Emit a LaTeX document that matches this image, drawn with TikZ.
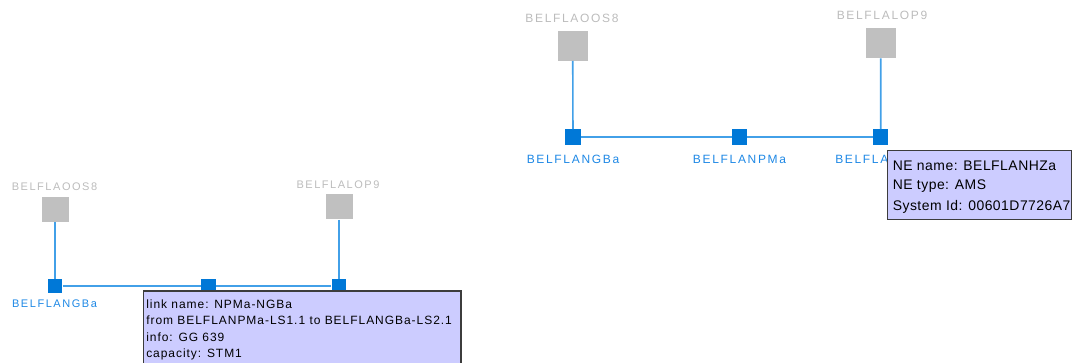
\documentclass[tikz,border=0pt]{standalone}
\usepackage{fontspec}
\setmainfont{Liberation Sans}
\newfontfamily\lblfont[LetterSpace=14]{Liberation Sans}
\newfontfamily\tipfont[LetterSpace=8]{Liberation Sans}
\newfontfamily\tipfontb[LetterSpace=3.5]{Liberation Sans}

\definecolor{neblue}{RGB}{0,120,215}
\definecolor{linkblue}{RGB}{66,160,232}
\definecolor{lblblue}{RGB}{30,136,229}
\definecolor{negray}{RGB}{192,192,192}
\definecolor{lblgray}{RGB}{188,188,188}
\definecolor{tipfill}{RGB}{204,204,255}
\definecolor{tipborder}{RGB}{60,60,60}

\tikzset{
  px/.style={x=0.75pt,y=-0.75pt},
  remote/.style={rectangle,fill=negray,inner sep=0pt},
  ne/.style={rectangle,fill=neblue,inner sep=0pt},
  link/.style={draw=linkblue,line width=1.2pt},
  grylbl/.style={text=lblgray,inner sep=0pt},
  blulbl/.style={text=lblblue,inner sep=0pt},
  tipbox/.style={draw=tipborder,fill=tipfill,line width=1.1pt,rectangle,inner sep=0pt},
  tipline/.style={inner sep=0pt,text=black,anchor=base west,font=\tipfont\fontsize{9pt}{11pt}\selectfont},
  tiplineb/.style={inner sep=0pt,text=black,anchor=base west,font=\tipfontb\fontsize{10.45pt}{12pt}\selectfont}
}

\begin{document}
\begin{tikzpicture}[px]
\useasboundingbox (0,0) rectangle (1072,363);
\clip (0,0) rectangle (1072,363);

% ---------- left view ----------
\node[remote,minimum width=20.25pt,minimum height=18.75pt] (lo) at (55,209.5) {};
\node[remote,minimum width=20.25pt,minimum height=18.75pt] (lp) at (339,207) {};
\node[grylbl,font=\lblfont\fontsize{8.25pt}{10pt}\selectfont] (lol) at (54.5,187) {BELFLAOOS8};
\node[grylbl,font=\lblfont\fontsize{8.25pt}{10pt}\selectfont] (lpl) at (338,184.5) {BELFLALOP9};

\node[ne,minimum width=11pt,minimum height=10pt] (lg) at (55,286) {};
\node[ne,minimum width=11pt,minimum height=10pt] (ln) at (208.7,286) {};
\node[ne,minimum width=11pt,minimum height=10pt] (lh) at (339,286) {};

\draw[link] (lo) -- (lg);
\draw[link] (lp) -- (lh);
\draw[link] (lg) -- (ln) -- (lh);

\node[blulbl,font=\lblfont\fontsize{8.25pt}{10pt}\selectfont] (lgl) at (54.5,303.5) {BELFLANGBa};

% link tooltip
\node[tipbox,anchor=north west,minimum width=238pt,minimum height=70pt] (ltip) at (143,290.5) {};
\node[tipline] (lt1) at (146,308.7) {link name: NPMa-NGBa};
\node[tipline] (lt2) at (146,324.9) {from BELFLANPMa-LS1.1 to BELFLANGBa-LS2.1};
\node[tipline] (lt3) at (146,341.1) {info: GG 639};
\node[tipline] (lt4) at (146,357.3) {capacity: STM1};

% ---------- right view ----------
\node[remote,minimum width=22.5pt,minimum height=22.5pt] (ro) at (572.7,45.7) {};
\node[remote,minimum width=22.5pt,minimum height=22.5pt] (rp) at (880.7,43) {};
\node[grylbl,font=\lblfont\fontsize{9pt}{11pt}\selectfont] (rol) at (572,18) {BELFLAOOS8};
\node[grylbl,font=\lblfont\fontsize{9pt}{11pt}\selectfont] (rpl) at (882,15.7) {BELFLALOP9};

\node[ne,minimum width=11.5pt,minimum height=11.5pt] (rg) at (573,137) {};
\node[ne,minimum width=11.5pt,minimum height=11.5pt] (rn) at (739.5,137) {};
\node[ne,minimum width=11.5pt,minimum height=11.5pt] (rh) at (880.8,137) {};

\draw[link] (ro) -- (rg);
\draw[link] (rp) -- (rh);
\draw[link] (rg) -- (rn) -- (rh);

\node[blulbl,font=\lblfont\fontsize{9pt}{11pt}\selectfont] (rgl) at (573,159.3) {BELFLANGBa};
\node[blulbl,font=\lblfont\fontsize{9pt}{11pt}\selectfont] (rnl) at (739.5,159.3) {BELFLANPMa};
% label of the third element, its tail hidden under the tooltip
\node[blulbl,font=\lblfont\fontsize{9pt}{11pt}\selectfont,anchor=west] (rhl) at (835,159.3) {BELFLA};

% network element tooltip
\node[tipbox,anchor=north west,minimum width=138pt,minimum height=51.75pt] (rtip) at (887,150) {};
\node[tiplineb] (rt1) at (892.5,170.5) {NE name: BELFLANHZa};
\node[tiplineb] (rt2) at (892.5,190) {NE type: AMS};
\node[tiplineb] (rt3) at (892.5,210.5) {System Id: 00601D7726A7};
\end{tikzpicture}
\end{document}
